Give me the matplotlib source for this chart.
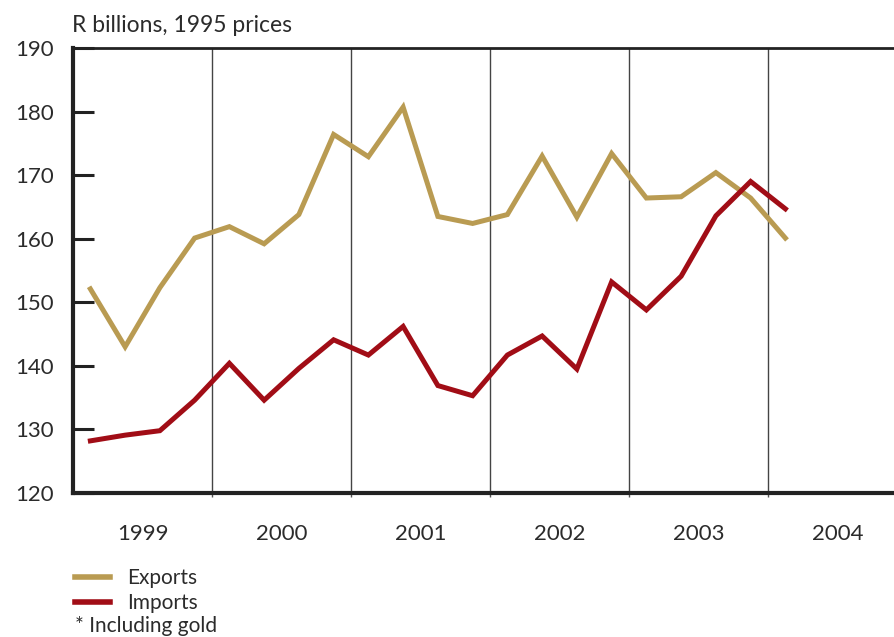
import matplotlib
matplotlib.use('Agg')
import matplotlib.pyplot as plt
from matplotlib.lines import Line2D

# Quarterly values, 1999 Q1 to 2004 Q1
quarters = ['1999Q1', '1999Q2', '1999Q3', '1999Q4',
            '2000Q1', '2000Q2', '2000Q3', '2000Q4',
            '2001Q1', '2001Q2', '2001Q3', '2001Q4',
            '2002Q1', '2002Q2', '2002Q3', '2002Q4',
            '2003Q1', '2003Q2', '2003Q3', '2003Q4',
            '2004Q1']
exports = [152.1, 143.0, 152.3, 160.1,
           161.9, 159.2, 163.8, 176.4,
           172.9, 180.7, 163.5, 162.4,
           163.8, 173.0, 163.4, 173.4,
           166.4, 166.6, 170.4, 166.4,
           160.1]
imports = [128.2, 129.1, 129.8, 134.6,
           140.4, 134.6, 139.6, 144.1,
           141.7, 146.2, 136.9, 135.3,
           141.7, 144.7, 139.5, 153.2,
           148.8, 154.1, 163.6, 169.0,
           164.7]
years = [1999, 2000, 2001, 2002, 2003, 2004]
y_ticks = [120, 130, 140, 150, 160, 170, 180, 190]

EXP_COLOR = '#b99b52'
IMP_COLOR = '#a10d16'
TEXT_COLOR = '#2b2b2b'
FONT = 'Lato'

# quarter -> position in years, centred inside each quarter
def to_x(q):
    year = int(q[:4])
    n = int(q[-1])
    return year + (n - 0.5) / 4

xs = [to_x(q) for q in quarters]

fig = plt.figure(figsize=(8.95, 6.37), dpi=100)
ax = fig.add_axes([73 / 895, (637 - 493) / 637, (895 - 73) / 895, (493 - 48) / 637])

ax.plot(xs, exports, color=EXP_COLOR, lw=3.6, solid_joinstyle='miter', zorder=3)
ax.plot(xs, imports, color=IMP_COLOR, lw=3.6, solid_joinstyle='miter', zorder=3)

ax.set_xlim(1999, 1999 + 822 / 139)
ax.set_ylim(120, 190)

# year boundaries as gridlines, year names at mid-year
ax.set_xticks(years[1:])
ax.set_xticklabels([])
ax.set_xticks([y + 0.5 for y in years], minor=True)
ax.set_xticklabels([str(y) for y in years], minor=True, fontsize=16,
                   fontfamily=FONT, color=TEXT_COLOR)
ax.tick_params(axis='x', which='major', direction='out', length=3, width=1,
               color='#555555')
ax.tick_params(axis='x', which='minor', length=0, pad=22)
ax.grid(axis='x', which='major', color='#444444', lw=1)

ax.set_yticks(y_ticks)
ax.set_yticklabels([str(v) for v in y_ticks], fontsize=16, fontfamily=FONT,
                   color=TEXT_COLOR)
ax.tick_params(axis='y', direction='in', length=15, width=2.2, color='#222222',
               pad=14)

for side in ['left', 'bottom']:
    ax.spines[side].set_linewidth(3)
    ax.spines[side].set_color('#222222')
ax.spines['top'].set_linewidth(2)
ax.spines['top'].set_color('#222222')
ax.spines['right'].set_visible(False)

fig.text(72 / 895, 1 - 25 / 637, 'R billions, 1995 prices', fontsize=16.5,
         fontfamily=FONT, color=TEXT_COLOR, va='center', ha='left')

handles = [Line2D([], [], color=EXP_COLOR, lw=4),
           Line2D([], [], color=IMP_COLOR, lw=4)]
leg = fig.legend(handles, ['Exports', 'Imports'], loc='upper left',
                 bbox_to_anchor=(75 / 895, 1 - 568 / 637), frameon=False,
                 borderpad=0, borderaxespad=0,
                 handlelength=1.7, handletextpad=0.8, labelspacing=0.25,
                 prop={'family': FONT, 'size': 15})
for t in leg.get_texts():
    t.set_color(TEXT_COLOR)

fig.text(75 / 895, 1 - 626 / 637, '* Including gold', fontsize=15,
         fontfamily=FONT, color=TEXT_COLOR, va='center', ha='left')

fig.savefig('out.png', dpi=100)
